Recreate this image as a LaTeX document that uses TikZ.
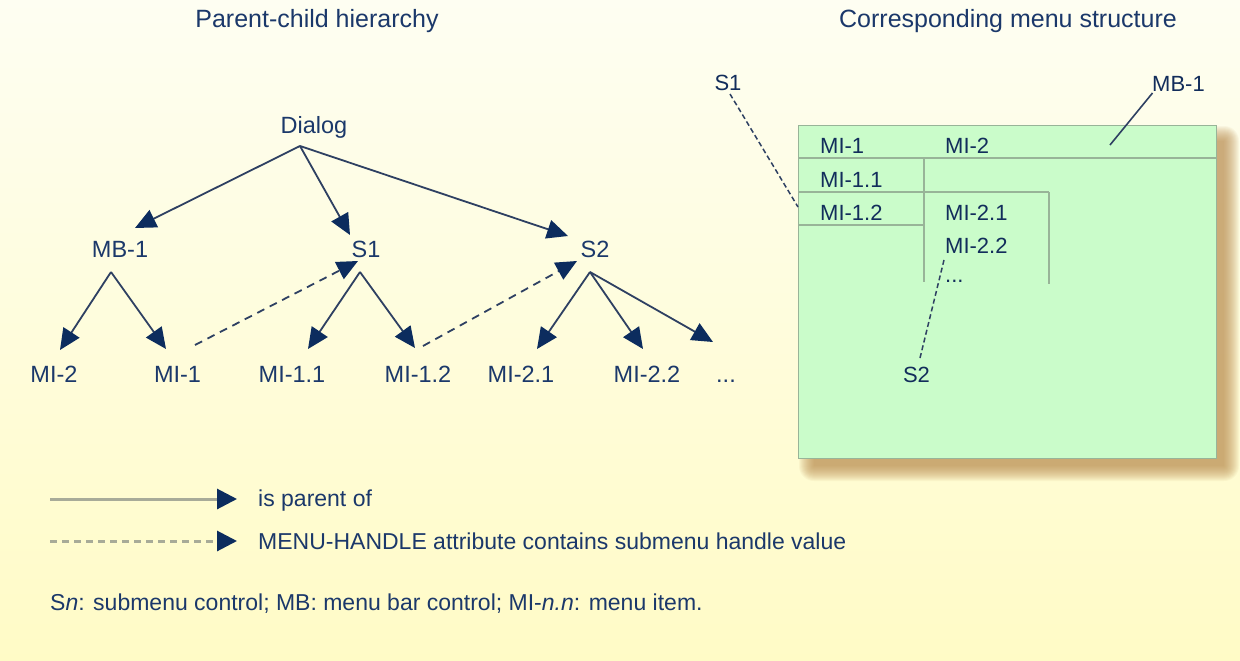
\documentclass[tikz,border=0pt]{standalone}
\usepackage{fontspec}
\setmainfont{Liberation Sans}
\usetikzlibrary{arrows.meta,calc}
\definecolor{bgtop}{HTML}{FEFEF2}
\definecolor{bgbot}{HTML}{FFFBC6}
\definecolor{txt}{HTML}{1B386A}
\definecolor{txtdark}{HTML}{122D5B}
\definecolor{linec}{HTML}{2E4062}
\definecolor{arrowc}{HTML}{0C2C5E}
\definecolor{boxfill}{HTML}{CAFCCA}
\definecolor{boxline}{HTML}{98B498}
\definecolor{shadowc}{HTML}{B8894A}
\definecolor{legline}{HTML}{A8AB98}
\begin{document}
\begin{tikzpicture}[x=1pt,y=-1pt,
  lbl/.style={font=\fontsize{23.5}{28}\selectfont, text=txt, inner sep=0pt, anchor=base},
  ttl/.style={font=\fontsize{25}{30}\selectfont, text=txt, inner sep=0pt, anchor=base},
  blbl/.style={font=\fontsize{22}{26}\selectfont, text=txtdark, inner sep=0pt, anchor=base west},
  rlbl/.style={font=\fontsize{22}{26}\selectfont, text=txtdark, inner sep=0pt, anchor=base},
  leg/.style={font=\fontsize{23}{28}\selectfont, text=txt, inner sep=0pt, anchor=base west},
  par/.style={draw=linec, line width=1.8pt, -{Triangle[length=21pt,width=19pt,color=arrowc]}},
  hnd/.style={par, dash pattern=on 8pt off 6pt},
  boxrule/.style={draw=boxline, line width=1.4pt},
  boxdash/.style={draw=linec, line width=1.5pt, dash pattern=on 5pt off 3pt},
  legsolid/.style={draw=legline, line width=3pt, -{Triangle[length=20pt,width=20pt,color=arrowc]}},
  legdash/.style={legsolid, dash pattern=on 7pt off 5pt}
]
\useasboundingbox (0,0) rectangle (1240,661);
\shade[top color=bgtop, bottom color=bgbot] (0,0) rectangle (1240,661);

% titles
\node[ttl] (t1) at (317,28) {Parent-child hierarchy};
\node[ttl] (t2) at (1008,28) {Corresponding menu structure};

% tree nodes
\node[lbl] (dialog) at (314,133) {Dialog};
\node[lbl] (mb1) at (120,257) {MB-1};
\node[lbl] (s1) at (366,257) {S1};
\node[lbl] (s2) at (595,257) {S2};
\node[lbl] (mi2) at (54,382) {MI-2};
\node[lbl] (mi1) at (177.5,382) {MI-1};
\node[lbl] (mi11) at (292,382) {MI-1.1};
\node[lbl] (mi12) at (418,382) {MI-1.2};
\node[lbl] (mi21) at (521,382) {MI-2.1};
\node[lbl] (mi22) at (647,382) {MI-2.2};
\node[lbl] (dots) at (726,382) {...};

% parent edges
\draw[par] ($(dialog.base)+(-14,13)$) -- ($(mb1.base)+(15,-29)$);
\draw[par] ($(dialog.base)+(-14,13)$) -- ($(s1.base)+(-16,-22)$);
\draw[par] ($(dialog.base)+(-14,13)$) -- ($(s2.base)+(-27,-21)$);
\draw[par] ($(mb1.base)+(-9,15)$) -- ($(mi2.base)+(6,-32)$);
\draw[par] ($(mb1.base)+(-9,15)$) -- ($(mi1.base)+(-11.5,-33)$);
\draw[par] ($(s1.base)+(-6,15)$) -- ($(mi11.base)+(16,-33)$);
\draw[par] ($(s1.base)+(-6,15)$) -- ($(mi12.base)+(-3,-34)$);
\draw[par] ($(s2.base)+(-5,15)$) -- ($(mi21.base)+(16,-33)$);
\draw[par] ($(s2.base)+(-5,15)$) -- ($(mi22.base)+(-4,-33)$);
\draw[par] ($(s2.base)+(-5,15)$) -- ($(dots.base)+(-13,-40)$);

% menu handle edges
\draw[hnd] ($(mi1.base)+(17.5,-37)$) -- ($(s1.base)+(-8,4)$);
\draw[hnd] ($(mi12.base)+(5,-36)$) -- ($(s2.base)+(-18,4)$);

% shadow of menu box
\foreach \r in {0,...,15}{
  \fill[shadowc, opacity=0.065, rounded corners=\r pt] (814-\r,141-\r) rectangle (1224+\r,466+\r);
}
% menu box
\node[boxrule, fill=boxfill, minimum width=418pt, minimum height=333pt, inner sep=0pt, anchor=north west] (menubox) at (798,125) {};
\draw[boxrule] ($(menubox.north west)+(0,33)$) -- ($(menubox.north east)+(0,33)$);
\draw[boxrule] ($(menubox.north west)+(126,33)$) -- ($(menubox.north west)+(126,157)$);
\draw[boxrule] ($(menubox.north west)+(0,67)$) -- ($(menubox.north west)+(251,67)$);
\draw[boxrule] ($(menubox.north west)+(251,67)$) -- ($(menubox.north west)+(251,159)$);
\draw[boxrule] ($(menubox.north west)+(0,100)$) -- ($(menubox.north west)+(126,100)$);

\node[blbl] (bmi1) at (820,153) {MI-1};
\node[blbl] (bmi2) at (945,153) {MI-2};
\node[blbl] (bmi11) at (820,187) {MI-1.1};
\node[blbl] (bmi12) at (820,220) {MI-1.2};
\node[blbl] (bmi21) at (945,220) {MI-2.1};
\node[blbl] (bmi22) at (945,253) {MI-2.2};
\node[blbl] (bdots) at (945,282) {...};

\node[rlbl] (rs1) at (728,91) {S1};
\node[rlbl] (rmb1) at (1178.5,92) {MB-1};
\node[rlbl] (rs2) at (916.5,382) {S2};

\draw[boxdash] ($(rs1.base)+(2,3)$) -- ($(menubox.north west)+(0,82)$);
\draw[draw=linec, line width=1.6pt] ($(rmb1.base)+(-26,1)$) -- ($(menubox.north west)+(312,20)$);
\draw[boxdash] ($(rs2.base)+(3.5,-24)$) -- ($(bmi22.base west)+(-1,7)$);

% legend
\coordinate (la) at (50,499);
\coordinate (lb) at (50,541);
\node[leg] (lg1) at (258,506) {is parent of};
\node[leg] (lg2) at (258,549) {MENU-HANDLE attribute contains submenu handle value};
\draw[legsolid] (la) -- ($(lg1.base west)+(-21,-7)$);
\draw[legdash] (lb) -- ($(lg2.base west)+(-21,-8)$);
\node[leg] (foot) at (50,610) {S\textit{n}: submenu control; MB: menu bar control; MI-\textit{n.n}: menu item.};
\end{tikzpicture}
\end{document}
